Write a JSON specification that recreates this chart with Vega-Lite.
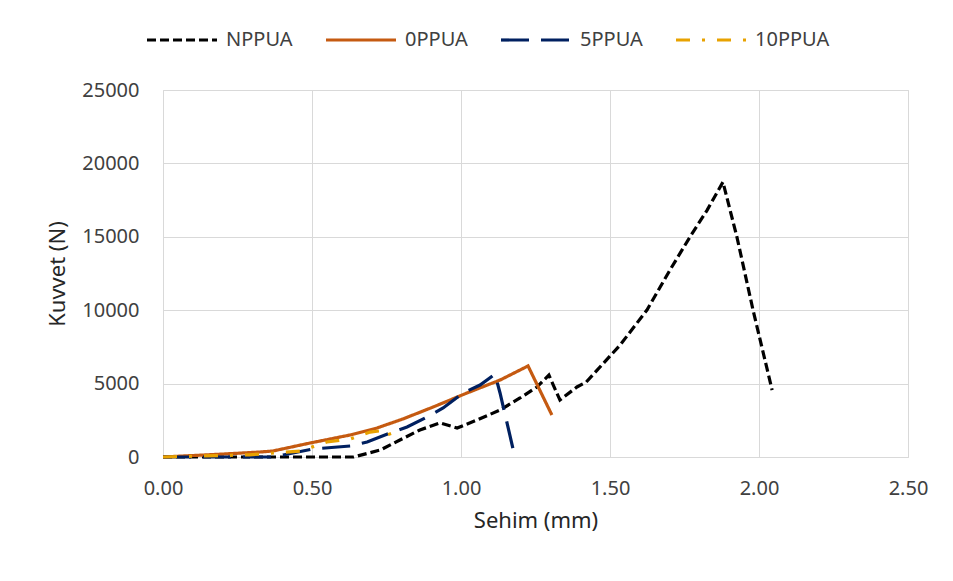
{
  "$schema": "https://vega.github.io/schema/vega-lite/v6.json",
  "autosize": {"type": "none"},
  "width": 745,
  "height": 367,
  "padding": {"left": 163, "top": 90, "right": 45, "bottom": 124},
  "background": "white",
  "config": {
    "font": "Noto Sans",
    "view": {"stroke": "#D9D9D9"},
    "axis": {"labelColor": "#404040", "titleColor": "#262626", "gridColor": "#D9D9D9", "gridWidth": 1, "domain": false, "ticks": false, "labelFontSize": 20, "titleFontSize": 22, "titleFontWeight": "normal", "labelFlush": false},
    "legend": {"labelColor": "#404040", "labelFontSize": 20}
  },
  "data": {"values": [
    {"s": "NPPUA", "x": 0.0, "y": 0},
    {"s": "NPPUA", "x": 0.24, "y": 0},
    {"s": "NPPUA", "x": 0.64, "y": 0},
    {"s": "NPPUA", "x": 0.73, "y": 480},
    {"s": "NPPUA", "x": 0.795, "y": 1160},
    {"s": "NPPUA", "x": 0.862, "y": 1840},
    {"s": "NPPUA", "x": 0.93, "y": 2320},
    {"s": "NPPUA", "x": 0.987, "y": 1975},
    {"s": "NPPUA", "x": 1.054, "y": 2520},
    {"s": "NPPUA", "x": 1.131, "y": 3200},
    {"s": "NPPUA", "x": 1.198, "y": 4020},
    {"s": "NPPUA", "x": 1.255, "y": 4770},
    {"s": "NPPUA", "x": 1.295, "y": 5580},
    {"s": "NPPUA", "x": 1.332, "y": 3880},
    {"s": "NPPUA", "x": 1.389, "y": 4770},
    {"s": "NPPUA", "x": 1.42, "y": 5100},
    {"s": "NPPUA", "x": 1.456, "y": 5900},
    {"s": "NPPUA", "x": 1.534, "y": 7630},
    {"s": "NPPUA", "x": 1.624, "y": 10010},
    {"s": "NPPUA", "x": 1.701, "y": 12730},
    {"s": "NPPUA", "x": 1.768, "y": 14980},
    {"s": "NPPUA", "x": 1.826, "y": 16820},
    {"s": "NPPUA", "x": 1.879, "y": 18730},
    {"s": "NPPUA", "x": 1.926, "y": 14980},
    {"s": "NPPUA", "x": 1.98, "y": 10010},
    {"s": "NPPUA", "x": 2.044, "y": 4560},
    {"s": "0PPUA", "x": 0.0, "y": 0},
    {"s": "0PPUA", "x": 0.2, "y": 200},
    {"s": "0PPUA", "x": 0.326, "y": 340},
    {"s": "0PPUA", "x": 0.369, "y": 410},
    {"s": "0PPUA", "x": 0.493, "y": 950},
    {"s": "0PPUA", "x": 0.628, "y": 1500},
    {"s": "0PPUA", "x": 0.718, "y": 1975},
    {"s": "0PPUA", "x": 0.805, "y": 2590},
    {"s": "0PPUA", "x": 0.906, "y": 3400},
    {"s": "0PPUA", "x": 1.02, "y": 4360},
    {"s": "0PPUA", "x": 1.131, "y": 5240},
    {"s": "0PPUA", "x": 1.225, "y": 6200},
    {"s": "0PPUA", "x": 1.305, "y": 2860},
    {"s": "5PPUA", "x": 0.0, "y": 0},
    {"s": "5PPUA", "x": 0.36, "y": 0},
    {"s": "5PPUA", "x": 0.403, "y": 140},
    {"s": "5PPUA", "x": 0.503, "y": 545},
    {"s": "5PPUA", "x": 0.628, "y": 750},
    {"s": "5PPUA", "x": 0.685, "y": 1020},
    {"s": "5PPUA", "x": 0.762, "y": 1630},
    {"s": "5PPUA", "x": 0.819, "y": 2040},
    {"s": "5PPUA", "x": 0.886, "y": 2720},
    {"s": "5PPUA", "x": 0.94, "y": 3340},
    {"s": "5PPUA", "x": 1.007, "y": 4360},
    {"s": "5PPUA", "x": 1.064, "y": 4900},
    {"s": "5PPUA", "x": 1.114, "y": 5650},
    {"s": "5PPUA", "x": 1.131, "y": 4360},
    {"s": "5PPUA", "x": 1.174, "y": 610},
    {"s": "10PPUA", "x": 0.0, "y": 0},
    {"s": "10PPUA", "x": 0.29, "y": 150},
    {"s": "10PPUA", "x": 0.46, "y": 400},
    {"s": "10PPUA", "x": 0.55, "y": 1020},
    {"s": "10PPUA", "x": 0.628, "y": 1230},
    {"s": "10PPUA", "x": 0.695, "y": 1700},
    {"s": "10PPUA", "x": 0.755, "y": 1840},
    {"s": "10PPUA", "x": 0.772, "y": 950}
  ]},
  "mark": {"type": "line", "strokeWidth": 3.2, "strokeCap": "butt"},
  "encoding": {
    "x": {"field": "x", "type": "quantitative", "title": "Sehim (mm)",
      "scale": {"domain": [0, 2.5], "nice": false},
      "axis": {"values": [0, 0.5, 1, 1.5, 2, 2.5], "format": ".2f", "labelPadding": 21, "titlePadding": 12}},
    "y": {"field": "y", "type": "quantitative", "title": "Kuvvet (N)",
      "scale": {"domain": [0, 25000], "nice": false},
      "axis": {"values": [0, 5000, 10000, 15000, 20000, 25000], "format": "d", "labelPadding": 24, "titlePadding": 12}},
    "color": {"field": "s", "type": "nominal",
      "scale": {"domain": ["NPPUA", "0PPUA", "5PPUA", "10PPUA"], "range": ["#000000", "#C55A11", "#002060", "#E8A200"]},
      "legend": {"title": null, "orient": "none", "direction": "horizontal", "legendX": -18, "legendY": -87, "symbolType": "stroke", "symbolSize": 4900, "symbolStrokeWidth": 3.2, "labelOffset": 7, "columnPadding": 26}},
    "strokeDash": {"field": "s", "type": "nominal",
      "scale": {"domain": ["NPPUA", "0PPUA", "5PPUA", "10PPUA"], "range": [[9, 4], [1, 0], [28, 12], [14, 12, 3, 12]]},
      "legend": {"title": null, "orient": "none", "direction": "horizontal", "legendX": -18, "legendY": -87, "symbolType": "stroke", "symbolSize": 4900, "symbolStrokeWidth": 3.2, "labelOffset": 7, "columnPadding": 26}}
  }
}
